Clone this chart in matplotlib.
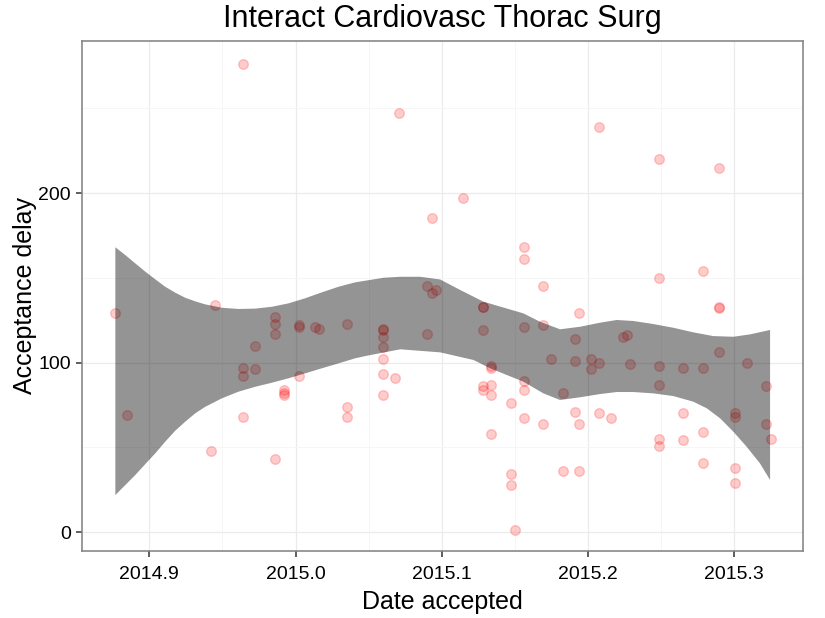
import matplotlib
matplotlib.use('Agg')
import matplotlib.pyplot as plt
import numpy as np

plt.rcParams['font.family'] = ['Liberation Sans', 'DejaVu Sans']

# points: date accepted (decimal year) and acceptance delay (days)
date_accepted = [
    2014.8768, 2014.8850, 2014.9420, 2014.9450, 2014.9640, 2014.9640, 2014.9640, 2014.9640,
    2014.9720, 2014.9720, 2014.9860, 2014.9860, 2014.9860, 2014.9860, 2014.9920, 2014.9920,
    2014.9920, 2015.0025, 2015.0025, 2015.0025, 2015.0135, 2015.0160, 2015.0350, 2015.0350,
    2015.0350, 2015.0600, 2015.0600, 2015.0600, 2015.0600, 2015.0600, 2015.0600, 2015.0600,
    2015.0680, 2015.0710, 2015.0900, 2015.0900, 2015.0930, 2015.0930, 2015.0960, 2015.1144,
    2015.1280, 2015.1280, 2015.1280, 2015.1280, 2015.1280, 2015.1336, 2015.1336, 2015.1336,
    2015.1336, 2015.1336, 2015.1474, 2015.1474, 2015.1474, 2015.1500, 2015.1560, 2015.1560,
    2015.1560, 2015.1560, 2015.1560, 2015.1560, 2015.1690, 2015.1690, 2015.1690, 2015.1750,
    2015.1830, 2015.1830, 2015.1910, 2015.1910, 2015.1910, 2015.1940, 2015.1940, 2015.1940,
    2015.2020, 2015.2020, 2015.2076, 2015.2076, 2015.2076, 2015.2160, 2015.2240, 2015.2267,
    2015.2290, 2015.2486, 2015.2486, 2015.2486, 2015.2486, 2015.2486, 2015.2486, 2015.2650,
    2015.2650, 2015.2650, 2015.2787, 2015.2787, 2015.2787, 2015.2787, 2015.2896, 2015.2896,
    2015.2896, 2015.2896, 2015.3003, 2015.3003, 2015.3003, 2015.3003, 2015.3087, 2015.3220,
    2015.3220, 2015.3250,
]
acceptance_delay = [
    129, 69, 48, 134, 276, 97, 92, 68,
    110, 96, 127, 123, 117, 43, 84, 82,
    81, 122, 121, 92, 121, 120, 123, 74,
    68, 120, 119, 115, 109, 102, 93, 81,
    91, 247, 145, 117, 185, 141, 143, 197,
    133, 133, 119, 86, 84, 98, 97, 87,
    81, 58, 76, 34, 28, 1, 168, 161,
    121, 89, 84, 67, 145, 122, 64, 102,
    82, 36, 114, 101, 71, 129, 64, 36,
    102, 96, 239, 100, 70, 67, 115, 116,
    99, 220, 150, 98, 87, 55, 51, 97,
    70, 54, 154, 97, 59, 41, 215, 133,
    132, 106, 70, 68, 38, 29, 100, 86,
    64, 55,
]

# confidence band of the smoother
band_upper_x = [2014.8768, 2014.8836, 2014.8904, 2014.8973, 2014.9041, 2014.9109, 2014.9178,
                2014.9246, 2014.9314, 2014.9383, 2014.9497, 2014.9610, 2014.9725, 2014.9839,
                2014.9952, 2015.0066, 2015.0180, 2015.0294, 2015.0408, 2015.0602, 2015.0716,
                2015.0852, 2015.0989, 2015.1126, 2015.1285, 2015.1399, 2015.1558, 2015.1673,
                2015.1809, 2015.1946, 2015.2083, 2015.2197, 2015.2310, 2015.2447, 2015.2584,
                2015.2720, 2015.2857, 2015.2994, 2015.3108, 2015.3245]
band_upper_y = [168.0, 163.4, 158.5, 153.6, 149.1, 144.7, 141.2,
                138.2, 136.1, 134.3, 132.3, 131.6, 131.8, 132.9,
                134.9, 137.9, 141.4, 144.7, 147.3, 150.0, 150.6,
                150.6, 149.0, 142.8, 135.9, 133.0, 129.0, 124.0,
                119.6, 121.1, 123.5, 125.1, 124.5, 122.7, 120.5,
                117.8, 115.6, 115.2, 116.6, 119.2]
band_lower_x = [2014.8768, 2014.8836, 2014.8904, 2014.8973, 2014.9041, 2014.9109, 2014.9178,
                2014.9246, 2014.9314, 2014.9383, 2014.9497, 2014.9610, 2014.9725, 2014.9839,
                2014.9952, 2015.0066, 2015.0180, 2015.0294, 2015.0408, 2015.0488, 2015.0716,
                2015.0989, 2015.1217, 2015.1331, 2015.1558, 2015.1695, 2015.1809, 2015.1946,
                2015.2083, 2015.2197, 2015.2310, 2015.2447, 2015.2584, 2015.2720, 2015.2812,
                2015.2903, 2015.2994, 2015.3085, 2015.3176, 2015.3245]
band_lower_y = [21.8, 27.7, 33.6, 40.1, 46.4, 53.3, 59.8,
                65.1, 70.0, 73.9, 78.9, 82.8, 85.7, 88.1,
                90.7, 93.6, 96.6, 99.5, 102.5, 104.0, 107.8,
                106.0, 101.5, 96.6, 88.7, 81.8, 77.9, 79.5,
                81.4, 82.6, 82.6, 81.8, 80.2, 76.9, 73.0,
                67.1, 59.2, 50.3, 40.5, 30.7]

fig = plt.figure(figsize=(8.25, 6.18), dpi=100)
ax = fig.add_axes([0.0994, 0.1084, 0.8739, 0.8253])

ax.scatter(date_accepted, acceptance_delay, s=48, color='red', alpha=0.2,
           linewidths=1, zorder=3)

band_x = np.r_[band_upper_x, band_lower_x[::-1]]
band_y = np.r_[band_upper_y, band_lower_y[::-1]]
ax.fill(band_x, band_y, color='black', alpha=0.42, linewidth=0, zorder=4)

ax.set_xlim(2014.854, 2015.347)
ax.set_ylim(-11.2, 289.7)
ax.set_xticks([2014.9, 2015.0, 2015.1, 2015.2, 2015.3])
ax.set_xticklabels(['2014.9', '2015.0', '2015.1', '2015.2', '2015.3'])
ax.set_yticks([0, 100, 200])
ax.set_xticks([2014.95, 2015.05, 2015.15, 2015.25], minor=True)
ax.set_yticks([50, 150, 250], minor=True)

ax.grid(which='major', color='#ebebeb', linewidth=0.9, zorder=0)
ax.grid(which='minor', color='#f6f6f6', linewidth=0.7, zorder=0)
ax.set_axisbelow(True)
ax.tick_params(which='major', direction='out', length=4, width=1.1, color='#333333',
               labelsize=14, labelcolor='black', pad=4)
ax.tick_params(axis='x', which='major', pad=7)
ax.tick_params(which='minor', length=0)
for sp in ax.spines.values():
    sp.set_color('#7f7f7f')
    sp.set_linewidth(1.1)

ax.set_xlabel('Date accepted', fontsize=18, labelpad=5)
ax.set_ylabel('Acceptance delay', fontsize=18, labelpad=1)
ax.set_title('Interact Cardiovasc Thorac Surg', fontsize=22, pad=10)

fig.savefig('out.png', dpi=100)
